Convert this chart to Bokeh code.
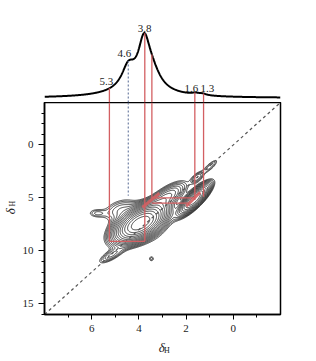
import numpy as np
from bokeh.plotting import figure
from bokeh.layouts import column, row
from bokeh.models import Range1d, FixedTicker
from bokeh.core.properties import value
from bokeh.embed import file_html
from bokeh.resources import INLINE

# ---- 1D projection (1H spectrum): peak position (ppm), height, half-width (ppm)
spec_pos = [3.78, 3.45, 4.45, 4.10, 1.60, 1.30]
spec_height = [0.68, 0.25, 0.32, 0.11, 0.025, 0.02]
spec_hwhm = [0.30, 0.45, 0.34, 1.30, 0.25, 0.20]

# peak labels on the projection
peak_labels = ["5.3", "4.6", "3.8", "1.6", "1.3"]
label_x = [5.38, 4.62, 3.76, 1.78, 1.10]
label_y = [0.20, 0.64, 1.03, 0.10, 0.10]

# red guide lines (ppm) and where they stop in the 2D map
red_x = [5.25, 3.75, 3.45, 1.63, 1.26]
red_end = [9.1, 9.1, 5.0, 5.2, 4.9]
dash_x = [4.45]
dash_end = [4.8]

# red connector segments in the 2D map
hseg_x0 = [5.25, 3.45, 3.45]
hseg_x1 = [3.75, 1.63, 1.90]
hseg_y = [9.1, 5.0, 5.5]
# thick red cross-peak marks
mark_x0 = [3.85, 1.99]
mark_y0 = [5.9, 5.79]
mark_x1 = [3.13, 1.40]
mark_y1 = [4.56, 4.47]

# 2D cross peaks: centre x, centre y (ppm), amplitude, major / minor width, tilt (deg)
pk_x = [3.93, 4.80, 5.16, 5.79, 2.84, 1.65, 1.53, 0.98, 2.62, 3.47]
pk_y = [7.38, 6.10, 10.40, 6.44, 4.94, 5.13, 3.07, 2.03, 9.30, 10.75]
pk_amp = [1.00, 0.04, 0.045, 0.025, 0.10, 0.35, 0.04, 0.03, 0.012, 0.02]
pk_major = [14, 11, 9, 6, 13, 11, 5, 7, 18, 2]
pk_minor = [7, 6, 3, 3, 5, 3.5, 2.5, 2.2, 9, 2]
pk_tilt = [30, 20, 30, 0, 35, 45, 42, 42, 10, 0]

x_major = [6, 4, 2, 0]
x_minor = [7, 5, 3, 1, -1]
y_major = [0, 5, 10, 15]
y_minor = [v for v in range(-3, 17) if v not in y_major]

SERIF = "Liberation Serif"
RED = "#d35f62"

xr = Range1d(8, -2)


def spectrum(x):
    x = np.asarray(x, dtype=float)
    s = np.zeros_like(x)
    for p0, h, w in zip(spec_pos, spec_height, spec_hwhm):
        s += h / (1 + ((x - p0) / w) ** 2)
    return s


def blank(w, h, xr_, yr_):
    f = figure(width=w, height=h, x_range=xr_, y_range=yr_, output_backend="svg",
               toolbar_location=None, x_axis_location=None, y_axis_location=None,
               min_border_left=0, min_border_right=0, min_border_top=0, min_border_bottom=0)
    f.grid.visible = False
    f.outline_line_color = None
    return f


# ---------------- top projection ----------------
top = figure(width=316, height=102, x_range=xr, y_range=Range1d(-0.07, 1.52),
             output_backend="svg", toolbar_location=None,
             x_axis_location=None, y_axis_location=None,
             min_border_left=44, min_border_right=36, min_border_top=0, min_border_bottom=0)
top.grid.visible = False
top.outline_line_color = None

sx = np.linspace(8, -2, 800)
top.line(sx, spectrum(sx), line_color="black", line_width=2)
rtop = spectrum(red_x)
top.segment(x0=red_x, y0=[-0.07] * len(red_x), x1=red_x, y1=list(rtop),
            line_color=RED, line_width=1.3)
top.segment(x0=dash_x, y0=[-0.07], x1=dash_x, y1=list(spectrum(dash_x)),
            line_color="#6f7fa3", line_width=1.2, line_dash="2 2")
top.text(x=label_x, y=label_y, text=peak_labels, text_font=value(SERIF),
         text_font_size="11px", text_align="center", text_baseline="bottom",
         text_color="#222222")

# ---------------- main 2D map ----------------
p = figure(width=298, height=238, x_range=xr, y_range=Range1d(16, -4),
           output_backend="svg", toolbar_location=None,
           min_border_left=26, min_border_right=36, min_border_top=0, min_border_bottom=26)
p.grid.visible = False
p.outline_line_color = "black"
p.outline_line_width = 1.5
p.outline_line_alpha = 1

for ax in (p.xaxis[0], p.yaxis[0]):
    ax.axis_line_width = 1.5
    ax.axis_line_color = "black"
    ax.major_tick_line_color = "black"
    ax.minor_tick_line_color = "black"
    ax.major_tick_in = 0
    ax.minor_tick_in = 0
    ax.major_label_text_font = SERIF
    ax.major_label_text_font_size = "11px"
    ax.major_label_text_color = "#222222"

p.xaxis.ticker = FixedTicker(ticks=x_major, minor_ticks=x_minor)
p.yaxis.ticker = FixedTicker(ticks=y_major, minor_ticks=y_minor)
p.xaxis.major_tick_out = 5
p.xaxis.minor_tick_out = 3
p.yaxis.major_tick_out = 6
p.yaxis.minor_tick_out = 3
p.xaxis.major_label_standoff = 5
p.yaxis.major_label_standoff = 5

# contour field
KX, KY = 23.6, 10.6  # display aspect (px per ppm)
gx = np.linspace(-2, 8, 400)
gy = np.linspace(-4, 16, 400)
X, Y = np.meshgrid(gx, gy)
Z = np.zeros_like(X)
for cx, cy, a, su, sv, th in zip(pk_x, pk_y, pk_amp, pk_major, pk_minor, pk_tilt):
    t = np.radians(th)
    dxp = (cx - X) * KX
    dyp = (cy - Y) * KY
    u = dxp * np.cos(t) + dyp * np.sin(t)
    v = -dxp * np.sin(t) + dyp * np.cos(t)
    Z += a * np.exp(-0.5 * ((u / su) ** 2 + (v / sv) ** 2))
levels = list(0.015 * 1.3 ** np.arange(16))
p.contour(gx, gy, Z, levels, line_color="#1c1c1c", line_width=0.85)

# diagonal
p.line([8, -2], [16, -4], line_color="#555555", line_width=1.2, line_dash="3 3")

# guide lines
p.segment(x0=red_x, y0=[-4] * len(red_x), x1=red_x, y1=red_end,
          line_color=RED, line_width=1.3)
p.segment(x0=dash_x, y0=[-4], x1=dash_x, y1=dash_end,
          line_color="#6f7fa3", line_width=1.2, line_dash="2 2")
p.segment(x0=hseg_x0, y0=hseg_y, x1=hseg_x1, y1=hseg_y, line_color=RED, line_width=1.3)
p.segment(x0=mark_x0, y0=mark_y0, x1=mark_x1, y1=mark_y1, line_color=RED,
          line_width=3, line_alpha=0.9)

# ---------------- axis titles: delta with subscript H ----------------
ylab = blank(18, 238, Range1d(0, 18), Range1d(238, 0))
ylab.text(x=[10], y=[122], text=["δ"], angle=np.pi / 2, text_font=value(SERIF),
          text_font_style="italic", text_font_size="13px", text_align="center",
          text_baseline="middle", text_color="#222222")
ylab.text(x=[12], y=[113.5], text=["H"], angle=np.pi / 2, text_font=value(SERIF),
          text_font_size="8px", text_align="center", text_baseline="middle",
          text_color="#222222")

xlab = blank(316, 21, Range1d(0, 316), Range1d(21, 0))
xlab.text(x=[157], y=[6.5], text=["δ"], text_font=value(SERIF),
          text_font_style="italic", text_font_size="13px", text_align="center",
          text_baseline="middle", text_color="#222222")
xlab.text(x=[164], y=[9.5], text=["H"], text_font=value(SERIF),
          text_font_size="8px", text_align="center", text_baseline="middle",
          text_color="#222222")

layout = column(top, row(ylab, p, spacing=0), xlab, spacing=0)
open("out.html", "w").write(file_html(layout, INLINE))
